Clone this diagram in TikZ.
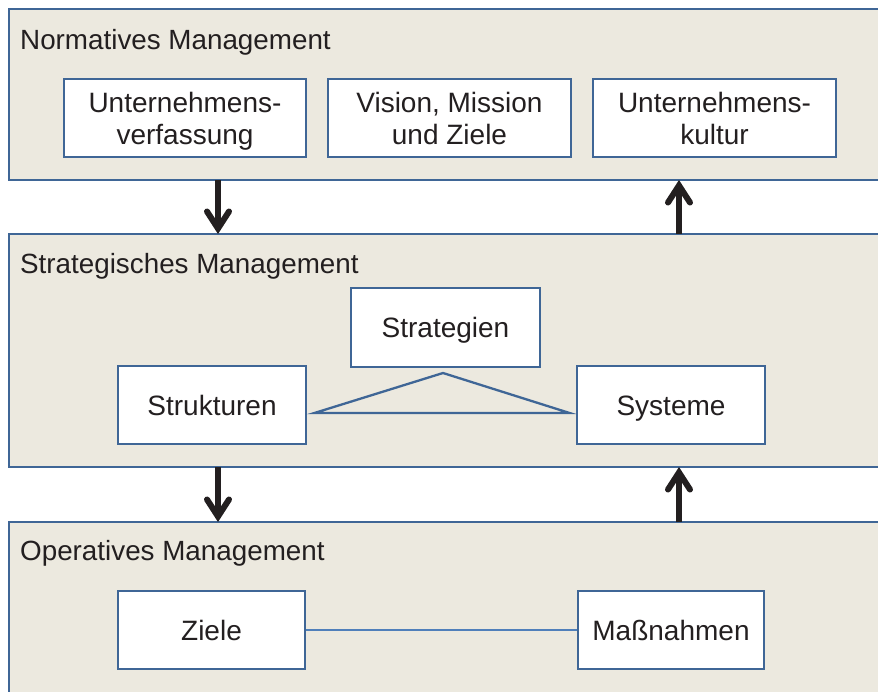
\documentclass[tikz,border=0pt]{standalone}
\usepackage{fontspec}
\setmainfont{Liberation Sans}
\usetikzlibrary{arrows.meta}
\definecolor{panelfill}{HTML}{ECE9DF}
\definecolor{frameblue}{HTML}{3F6696}
\definecolor{linkblue}{HTML}{4F7FBA}
\definecolor{ink}{HTML}{231F20}
\tikzset{
  panel/.style={draw=frameblue, line width=2.8pt, fill=panelfill, anchor=north west,
    inner sep=0pt, minimum width=900pt, outer sep=0pt},
  paneltitle/.style={anchor=base west, inner sep=0pt, text=ink},
  box/.style={draw=frameblue, line width=2.8pt, fill=white, align=center,
    inner sep=0pt, text=ink, font=\fontsize{28}{32}\selectfont,
    text height=20pt, text depth=0pt,
    minimum width=#1, minimum height=78pt},
  box/.default=188pt,
  twoline/.style={text height=52pt},
  flow/.style={line width=6pt, ink,
    -{Straight Barb[length=17pt, width=22pt, line width=6pt, line cap=round, line join=miter]}},
  tri/.style={draw=frameblue, line width=2.3pt, line join=miter},
  link/.style={draw=linkblue, line width=2pt}
}
\begin{document}
\begin{tikzpicture}[x=1pt, y=-1pt, font=\fontsize{27.8}{32}\selectfont]
\useasboundingbox (0,0) rectangle (878,691);
\clip (0,0) rectangle (878,691);
\fill[white] (0,0) rectangle (878,691);

% three management levels
\node[panel, minimum height=171pt] (norm)  at (9,9)   {};
\node[panel, minimum height=233pt] (strat) at (9,234) {};
\node[panel, minimum height=200pt] (oper)  at (9,522) {};

\node[paneltitle] (tnorm)  at (20,49)  {Normatives Management};
\node[paneltitle] (tstrat) at (20,273) {Strategisches Management};
\node[paneltitle] (toper)  at (20,560) {Operatives Management};

% normative level
\node[box=242pt, twoline] (verf)   at (185,118)   {Unternehmens-\\verfassung};
\node[box=243pt, twoline] (vision) at (449.5,118) {Vision, Mission\\und Ziele};
\node[box=243pt, twoline] (kultur) at (714.5,118) {Unternehmens-\\kultur};

% strategic level
\node[box=189pt, minimum height=79pt] (strategien) at (445.5,327.5) {Strategien};
\node[box] (strukturen) at (212,405) {Strukturen};
\node[box] (systeme)    at (671,405) {Systeme};

\coordinate (apex)  at (443,373);
\coordinate (baseL) at ([xshift=7pt]strukturen.east |- 0,413);
\coordinate (baseR) at ([xshift=-6pt]systeme.west |- 0,413);
\draw[tri] (apex) -- (baseL) -- (baseR) -- cycle;

% operative level
\node[box=187pt] (ziele)      at (211.5,630) {Ziele};
\node[box=186pt] (massnahmen) at (671,630)   {Maßnahmen};
\draw[link] (ziele.east) -- (massnahmen.west);

% flows between the levels
\coordinate (down1) at (218,0);
\coordinate (up1)   at (679,0);
\draw[flow] (down1 |- norm.south)  -- (down1 |- strat.north);
\draw[flow] (up1 |- strat.north)   -- (up1 |- norm.south);
\draw[flow] (down1 |- strat.south) -- (down1 |- oper.north);
\draw[flow] (up1 |- oper.north)    -- (up1 |- strat.south);
\end{tikzpicture}
\end{document}
